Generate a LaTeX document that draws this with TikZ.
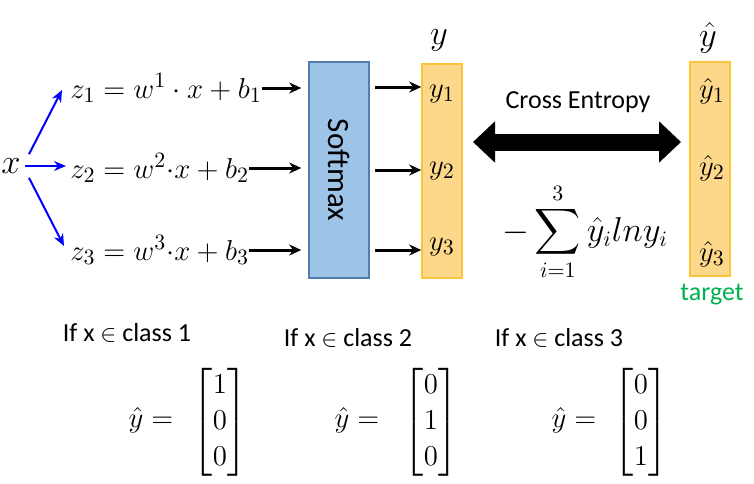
\documentclass[tikz,border=0pt]{standalone}
\usepackage{amsmath,amssymb}
\usepackage{graphicx}
\usepackage{fontspec}
\newfontfamily\calibri{Carlito}
\usepackage{tikz}
\usetikzlibrary{arrows.meta,positioning,calc}
\definecolor{softFill}{RGB}{157,195,230}
\definecolor{softLine}{RGB}{80,125,170}
\definecolor{probFill}{RGB}{254,216,138}
\definecolor{probLine}{RGB}{250,196,60}
\definecolor{targetGreen}{RGB}{0,176,80}
\newcommand{\mathsz}{\fontsize{15}{18}\selectfont}

\begin{document}
\begin{tikzpicture}[x=0.5pt,y=-0.5pt,
    inarr/.style={blue, line width=1pt, -{Stealth[length=6pt,width=5pt]}},
    outarr/.style={black, line width=1.5pt, -{Stealth[length=6pt,width=5.5pt]}},
    column/.style={draw=probLine, fill=probFill, line width=0.8pt, minimum width=20pt, minimum height=107pt, inner sep=0pt},
    entry/.style={font=\fontsize{15}{17}\selectfont, inner sep=1pt},
    sanslabel/.style={font=\calibri\fontsize{13}{15}\selectfont, inner sep=1pt}]
  \useasboundingbox (0,0) rectangle (754,483);
  % input and the three logits
  \node[font=\fontsize{16}{18}\selectfont, inner sep=2pt] (x) at (11,166) {$x$};
  \node[font=\mathsz, anchor=west, inner sep=0pt] (z1) at (70,88) {$z_1 = w^1\cdot x + b_1$};
  \node[font=\mathsz, anchor=west, inner sep=0pt] (z2) at (70,168) {$z_2 = w^2{\cdot}x + b_2$};
  \node[font=\mathsz, anchor=west, inner sep=0pt] (z3) at (70,250) {$z_3 = w^3{\cdot}x + b_3$};
  \draw[inarr] ([xshift=2pt]x.north east) -- ([xshift=-4pt,yshift=-1pt]z1.west);
  \draw[inarr] (x.east) -- ([xshift=-2pt]z2.west |- x.east);
  \draw[inarr] ([xshift=2pt]x.south east) -- ([xshift=-3pt,yshift=2pt]z3.west);
  % softmax block
  \node[draw=softLine, fill=softFill, line width=0.8pt, minimum width=30pt, minimum height=108pt, inner sep=0pt] (softmax) at (339,170)
    {\rotatebox{-90}{\calibri\fontsize{15.5}{18}\selectfont Softmax}};
  \foreach \i in {1,2,3}
    \draw[outarr] (z\i.east) -- ([xshift=-3.5pt]softmax.west |- z\i.east);
  % output y
  \node[column] (ybox) at (442,171) {};
  \node[font=\fontsize{16}{18}\selectfont] (ylab) at (439,40) {$y$};
  \node[entry] (y1) at (442,94) {$y_1$};
  \node[entry] (y2) at (442,171) {$y_2$};
  \node[entry] (y3) at (442,247) {$y_3$};
  \draw[outarr] ([xshift=2.5pt]softmax.east |- 0,87) -- (ybox.west |- 0,87);
  \draw[outarr] ([xshift=2.5pt]softmax.east |- 0,170) -- (ybox.west |- 0,170);
  \draw[outarr] ([xshift=2.5pt]softmax.east |- 0,250) -- (ybox.west |- 0,250);
  % target yhat
  \node[column] (tbox) at (710,169) {};
  \node[font=\fontsize{16}{18}\selectfont] (tlab) at (708,38) {$\hat{y}$};
  \node[entry] (t1) at (712,91) {$\hat{y}_1$};
  \node[entry] (t2) at (712,168) {$\hat{y}_2$};
  \node[entry] (t3) at (712,254) {$\hat{y}_3$};
  \node[sanslabel, text=targetGreen] (target) at (712,295) {target};
  % cross entropy
  \node[sanslabel] (ce) at (578,102) {Cross Entropy};
  \coordinate (ceL) at (473,142);
  \coordinate (ceR) at (681,142);
  \draw[line width=8.5pt, {Triangle[length=11pt,width=20pt]}-{Triangle[length=11pt,width=20pt]}] (ceL) -- (ceR);
  \node[font=\fontsize{16}{19}\selectfont] (loss) at (585,232) {$\displaystyle -\sum_{i=1}^{3}\hat{y}_i ln y_i$};
  % one-hot cases
  \node[sanslabel] (if1) at (127,333) {If x $\in$ class 1};
  \node[sanslabel] (if2) at (348,338) {If x $\in$ class 2};
  \node[sanslabel] (if3) at (559,338) {If x $\in$ class 3};
  \node[font=\mathsz] (eq1) at (151,420) {$\hat{y} =$};
  \node[font=\mathsz] (vec1) at (220,422) {$\begin{bmatrix}1\\0\\0\end{bmatrix}$};
  \node[font=\mathsz] (eq2) at (357,420) {$\hat{y} =$};
  \node[font=\mathsz] (vec2) at (431,422) {$\begin{bmatrix}0\\1\\0\end{bmatrix}$};
  \node[font=\mathsz] (eq3) at (574,420) {$\hat{y} =$};
  \node[font=\mathsz] (vec3) at (641,422) {$\begin{bmatrix}0\\0\\1\end{bmatrix}$};
\end{tikzpicture}
\end{document}
